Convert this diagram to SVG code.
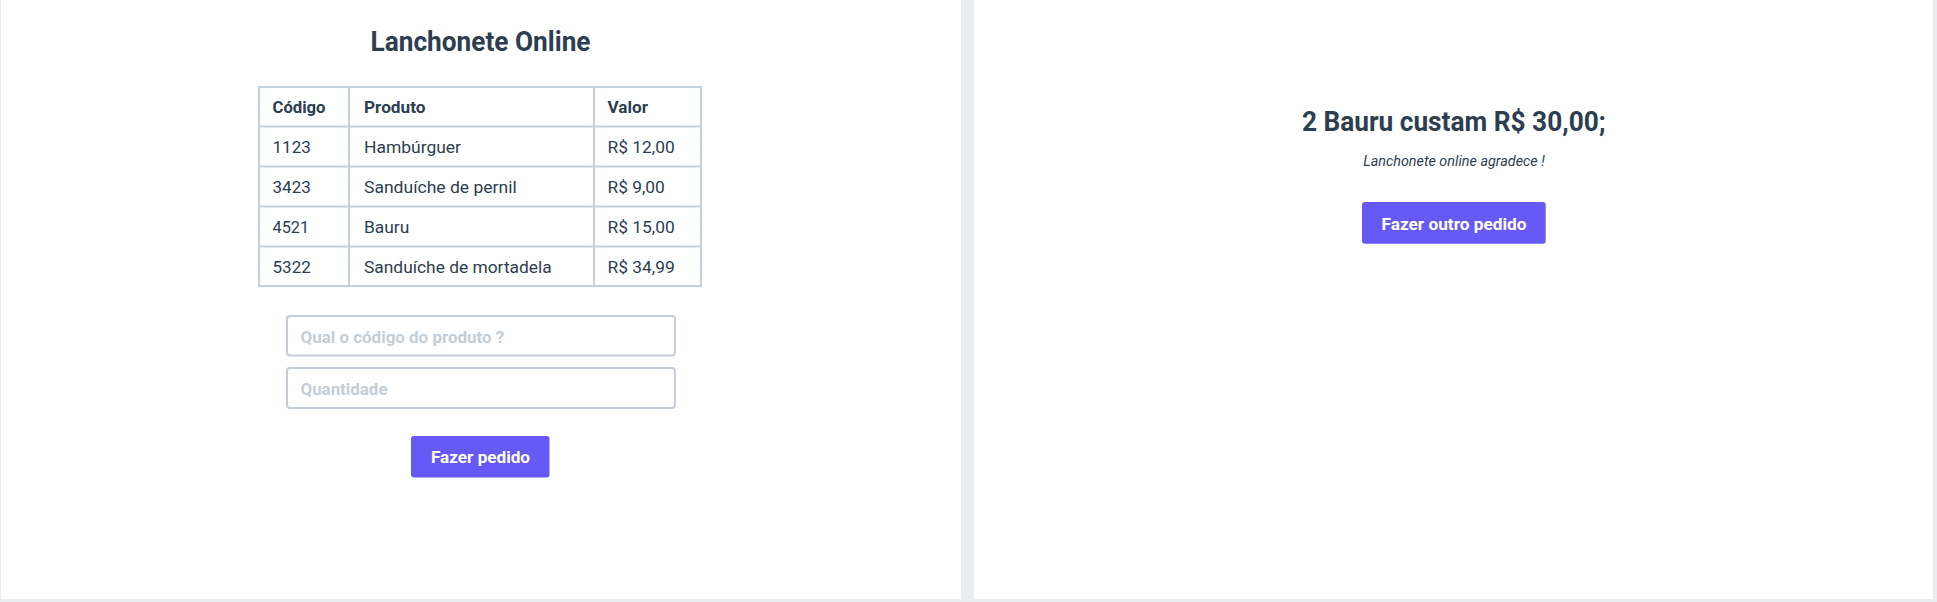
<svg xmlns="http://www.w3.org/2000/svg" width="1937" height="602" viewBox="0 0 1937 602">
<style>
text{font-family:Roboto,"Liberation Sans",sans-serif;fill:#2c3e50}
.h{font-weight:bold;font-size:16px}
.b{font-size:16px}
.t{font-weight:bold;font-size:27px}
.ph{font-weight:bold;font-size:16px;fill:#c3ced9}
.bt{font-weight:bold;font-size:16px;fill:#ffffff}
.it{font-style:italic;font-size:14px}
.grid{stroke:#c5d0db;stroke-width:2;fill:none}
.inp{stroke:#c5ced9;stroke-width:2;fill:#ffffff}
.btn{fill:#6659f6}
</style>
<rect x="0" y="0" width="1937" height="602" fill="#e9edf1"/>
<rect x="1" y="0" width="960" height="599" fill="#ffffff"/>
<rect x="974" y="0" width="959" height="599" fill="#ffffff"/>

<g id="left-panel">
<text class="t" x="480.5" y="51" text-anchor="middle" textLength="220" lengthAdjust="spacingAndGlyphs">Lanchonete Online</text>
<g id="table">
<rect class="grid" x="259" y="87" width="442" height="199"/>
<line class="grid" x1="349" y1="87" x2="349" y2="286"/>
<line class="grid" x1="594" y1="87" x2="594" y2="286"/>
<line class="grid" x1="259" y1="126.5" x2="701" y2="126.5"/>
<line class="grid" x1="259" y1="166.5" x2="701" y2="166.5"/>
<line class="grid" x1="259" y1="206.5" x2="701" y2="206.5"/>
<line class="grid" x1="259" y1="246.5" x2="701" y2="246.5"/>
<text class="h" x="272.5" y="113" textLength="53" lengthAdjust="spacingAndGlyphs">Código</text>
<text class="h" x="364" y="113" textLength="61.5" lengthAdjust="spacingAndGlyphs">Produto</text>
<text class="h" x="607.5" y="113" textLength="40.5" lengthAdjust="spacingAndGlyphs">Valor</text>
<text class="b" x="272.5" y="153" textLength="38.3" lengthAdjust="spacingAndGlyphs">1123</text>
<text class="b" x="364" y="153" textLength="97" lengthAdjust="spacingAndGlyphs">Hambúrguer</text>
<text class="b" x="607.5" y="153" textLength="67.3" lengthAdjust="spacingAndGlyphs">R$ 12,00</text>
<text class="b" x="272.5" y="193" textLength="38.3" lengthAdjust="spacingAndGlyphs">3423</text>
<text class="b" x="364" y="193" textLength="152.7" lengthAdjust="spacingAndGlyphs">Sanduíche de pernil</text>
<text class="b" x="607.5" y="193" textLength="57.3" lengthAdjust="spacingAndGlyphs">R$ 9,00</text>
<text class="b" x="272.5" y="233" textLength="36.7" lengthAdjust="spacingAndGlyphs">4521</text>
<text class="b" x="364" y="233" textLength="45.3" lengthAdjust="spacingAndGlyphs">Bauru</text>
<text class="b" x="607.5" y="233" textLength="67.3" lengthAdjust="spacingAndGlyphs">R$ 15,00</text>
<text class="b" x="272.5" y="273" textLength="38.3" lengthAdjust="spacingAndGlyphs">5322</text>
<text class="b" x="364" y="273" textLength="187.7" lengthAdjust="spacingAndGlyphs">Sanduíche de mortadela</text>
<text class="b" x="607.5" y="273" textLength="67.3" lengthAdjust="spacingAndGlyphs">R$ 34,99</text>
</g>
<g id="input-codigo">
<rect class="inp" x="287" y="316" width="388" height="39.5" rx="3"/>
<text class="ph" x="300.5" y="342.5" textLength="203.7" lengthAdjust="spacingAndGlyphs">Qual o código do produto ?</text>
</g>
<g id="input-quantidade">
<rect class="inp" x="287" y="368" width="388" height="40" rx="3"/>
<text class="ph" x="300.5" y="395" textLength="87" lengthAdjust="spacingAndGlyphs">Quantidade</text>
</g>
<g id="btn-fazer-pedido">
<rect class="btn" x="411" y="436" width="138.5" height="41.5" rx="3"/>
<text class="bt" x="480.5" y="463.3" text-anchor="middle" textLength="99" lengthAdjust="spacingAndGlyphs">Fazer pedido</text>
</g>
</g>

<g id="right-panel">
<text class="t" x="1453.8" y="131" text-anchor="middle" textLength="303.7" lengthAdjust="spacingAndGlyphs">2 Bauru custam R$ 30,00;</text>
<text class="it" x="1454" y="166" text-anchor="middle" textLength="181.7" lengthAdjust="spacingAndGlyphs">Lanchonete online agradece !</text>
<g id="btn-outro-pedido">
<rect class="btn" x="1362" y="202" width="183.7" height="41.7" rx="3"/>
<text class="bt" x="1454" y="230" text-anchor="middle" textLength="145" lengthAdjust="spacingAndGlyphs">Fazer outro pedido</text>
</g>
</g>
<g id="connectors"/>
</svg>
